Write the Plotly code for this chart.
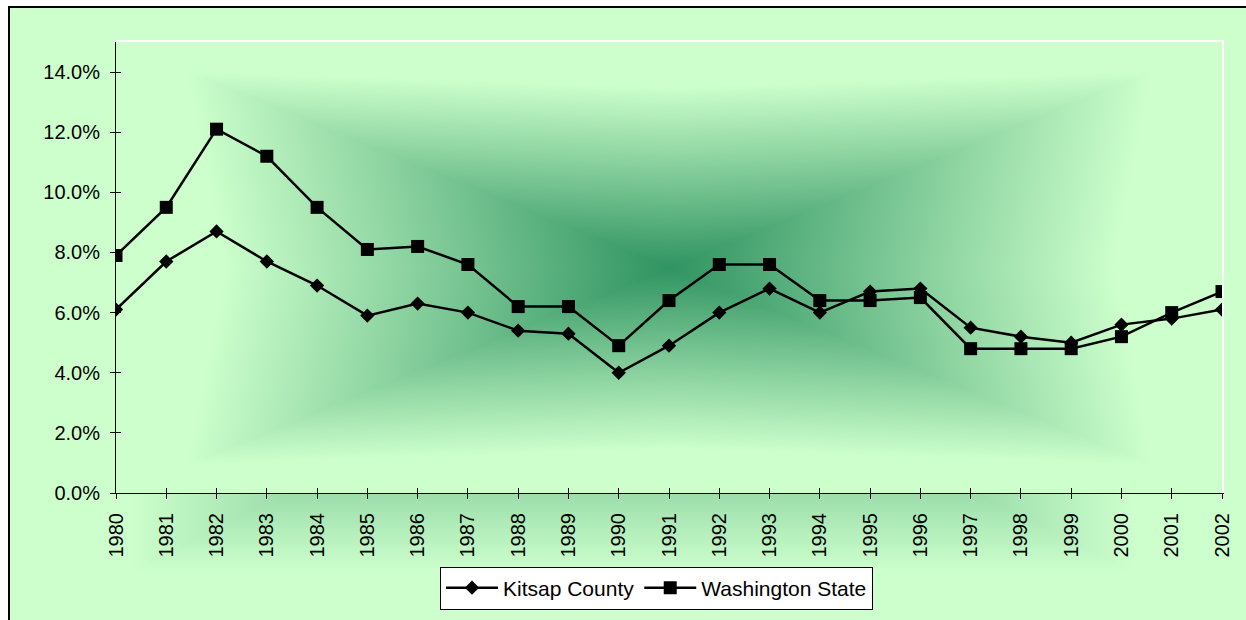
import base64
import zlib
import struct
import numpy as np
import plotly.graph_objects as go

# ---------------- data ----------------
years = list(range(1980, 2003))
kitsap_county = [6.1, 7.7, 8.7, 7.7, 6.9, 5.9, 6.3, 6.0, 5.4, 5.3, 4.0, 4.9,
                 6.0, 6.8, 6.0, 6.7, 6.8, 5.5, 5.2, 5.0, 5.6, 5.8, 6.1]
washington_state = [7.9, 9.5, 12.1, 11.2, 9.5, 8.1, 8.2, 7.6, 6.2, 6.2, 4.9, 6.4,
                    7.6, 7.6, 6.4, 6.4, 6.5, 4.8, 4.8, 4.8, 5.2, 6.0, 6.7]
y_ticks = [0, 2, 4, 6, 8, 10, 12, 14]
y_tick_labels = [f"{v:.1f}%" for v in y_ticks]
series_names = ["Kitsap County", "Washington State"]

# ---------------- layout geometry ----------------
W, H = 1246, 620
ML, MR, MT, MB = 116, 24, 42, 127
PW, PH = W - ML - MR, H - MT - MB
FONT = "Liberation Sans, Arial, sans-serif"

# ---------------- background gradient image (style only) ----------------
DARK = np.array([48, 148, 98], dtype=float)
LIGHT = np.array([204, 255, 204], dtype=float)


def rect_gradient(img, x0, y0, x1, y1, k):
    xs = np.arange(x0, x1)
    ys = np.arange(y0, y1)
    cx, cy = (x0 + x1) / 2.0, (y0 + y1) / 2.0
    a, b = (x1 - x0) / 2.0, (y1 - y0) / 2.0
    X, Y = np.meshgrid(xs, ys)
    u = np.abs(X - cx) / a
    v = np.abs(Y - cy) / b
    t = np.maximum(u, v) - k * np.minimum(u, v)
    f = np.clip(t / 0.8, 0, 1)
    col = DARK[None, None, :] * (1 - f[..., None]) + LIGHT[None, None, :] * f[..., None]
    ys0, ys1 = max(y0, 0), min(y1, img.shape[0])
    xs0, xs1 = max(x0, 0), min(x1, img.shape[1])
    img[ys0:ys1, xs0:xs1] = col[ys0 - y0:ys1 - y0, xs0 - x0:xs1 - x0]


img = np.full((H, W, 3), 255.0)
rect_gradient(img, 8, 6, W + 8, H + 12, 0.0)          # chart area
rect_gradient(img, ML, MT, ML + PW, MT + PH, 0.08)    # plot area
img[6:8, 8:] = 0                                      # chart border (top)
img[6:, 8:10] = 0                                     # chart border (left)
img = img.astype(np.uint8)


def to_png(arr):
    h, w, _ = arr.shape
    raw = b"".join(b"\x00" + arr[r].tobytes() for r in range(h))

    def chunk(tag, data):
        c = struct.pack(">I", len(data)) + tag + data
        return c + struct.pack(">I", zlib.crc32(tag + data) & 0xFFFFFFFF)

    return (b"\x89PNG\r\n\x1a\n" + chunk(b"IHDR", struct.pack(">IIBBBBB", w, h, 8, 2, 0, 0, 0))
            + chunk(b"IDAT", zlib.compress(raw, 9)) + chunk(b"IEND", b""))


bg_src = "data:image/png;base64," + base64.b64encode(to_png(img)).decode()

# ---------------- figure ----------------
fig = go.Figure()
fig.add_trace(go.Scatter(x=years, y=kitsap_county, name=series_names[0], mode="lines+markers",
                         line=dict(color="black", width=2.5),
                         marker=dict(symbol="diamond", size=11, color="black")))
fig.add_trace(go.Scatter(x=years, y=washington_state, name=series_names[1], mode="lines+markers",
                         line=dict(color="black", width=2.5),
                         marker=dict(symbol="square", size=13, color="black")))
# helper traces so the overlay axes (frame lines / inner tick halves) exist
for ax in ("2", "3"):
    fig.add_trace(go.Scatter(x=years, y=kitsap_county, xaxis="x" + ax, yaxis="y" + ax,
                             mode="lines", line=dict(width=0), opacity=0,
                             showlegend=False, hoverinfo="skip"))

xr = [years[0], years[-1]]
yr = [0, 15]
common = dict(showgrid=False, zeroline=False, automargin=False)
fig.update_layout(
    width=W, height=H,
    margin=dict(l=ML, r=MR, t=MT, b=MB, autoexpand=False),
    paper_bgcolor="white",
    plot_bgcolor="rgba(0,0,0,0)",
    font=dict(family=FONT, size=20, color="black"),
    showlegend=True,
    legend=dict(orientation="h", x=0.4887, xanchor="center", y=-0.163, yanchor="top",
                bgcolor="white", bordercolor="black", borderwidth=1,
                font=dict(family=FONT, size=21, color="black"),
                itemwidth=52, tracegroupgap=0),
    xaxis=dict(range=xr, tickmode="array", tickvals=years, ticktext=[str(y) for y in years],
               tickangle=-90, ticks="outside", ticklen=5, tickcolor="black", tickwidth=1,
               showline=True, linecolor="black", linewidth=1,
               ticklabelstandoff=6, tickfont=dict(family=FONT, size=20), **common),
    xaxis2=dict(range=xr, overlaying="x", anchor="y", side="top", showline=True,
                linecolor="white", linewidth=2, ticks="", showticklabels=False, **common),
    xaxis3=dict(range=xr, overlaying="x", anchor="y", side="bottom", showline=False,
                tickmode="array", tickvals=years, ticks="inside", ticklen=5,
                tickcolor="black", tickwidth=1, showticklabels=False, **common),
    yaxis=dict(range=yr, tickmode="array", tickvals=y_ticks, ticktext=y_tick_labels,
               ticks="outside", ticklen=5, tickcolor="black", tickwidth=1,
               showline=True, linecolor="black", linewidth=1,
               ticklabelstandoff=6, tickfont=dict(family=FONT, size=20), **common),
    yaxis2=dict(range=yr, overlaying="y", anchor="x", side="right", showline=True,
                linecolor="white", linewidth=2, ticks="", showticklabels=False, **common),
    yaxis3=dict(range=yr, overlaying="y", anchor="x", side="left", showline=False,
                tickmode="array", tickvals=y_ticks, ticks="inside", ticklen=5,
                tickcolor="black", tickwidth=1, showticklabels=False, **common),
    images=[dict(source=bg_src, xref="paper", yref="paper",
                 x=-ML / PW, y=1 + MT / PH, sizex=W / PW, sizey=H / PH,
                 xanchor="left", yanchor="top", sizing="stretch", layer="below")],
)

fig.write_html("out.html", config={"displayModeBar": False},
               post_script="document.body.style.margin='0';document.body.style.overflow='hidden';")
